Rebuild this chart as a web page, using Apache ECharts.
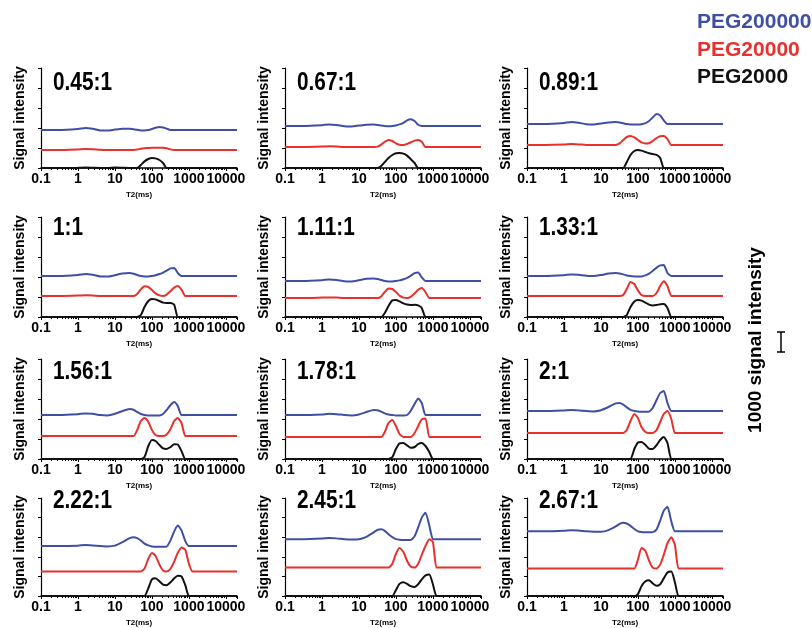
<!DOCTYPE html>
<html>
<head>
<meta charset="utf-8">
<script src="https://cdn.jsdelivr.net/npm/echarts@6/dist/echarts.min.js"></script>
<style>
  html, body { margin: 0; padding: 0; background: #fff; }
  #chart { width: 812px; height: 628px; }
</style>
</head>
<body>
<div id="chart"></div>
<script>
// T2 relaxation times (ms) shared by all curves
const t2 = [0.1, 0.3, 1, 1.6, 2.5, 4, 6.3, 10, 16, 25, 32, 40, 50, 63, 80, 100, 125, 160, 200, 250, 320, 400, 500, 630, 800, 1000, 1250, 1600, 3200, 20000]

const ratios = ['0.45:1', '0.67:1', '0.89:1', '1:1', '1.11:1', '1.33:1', '1.56:1', '1.78:1', '2:1', '2.22:1', '2.45:1', '2.67:1']

// vertical offset of each curve in its panel (signal units)
const blueShift = [1900, 2100, 2200, 2050, 1800, 2050, 2200, 2200, 2400, 2550, 2900, 3300]
const redShift = [900, 1050, 1150, 1050, 950, 1050, 1150, 1100, 1300, 1250, 1450, 1400]

// PEG200000
const blue045 = [0, 0, 50, 100, 60, -20, -30, 20, 60, 60, 40, 10, -20, -20, 0, 50, 110, 150, 130, 70, 0, 0, 0, 0, 0, 0, 0, 0, 0, 0]
const blue067 = [0, 0, 40, 80, 50, -10, -20, 20, 60, 70, 50, 20, 0, -10, 0, 30, 80, 160, 280, 340, 250, 60, 0, 0, 0, 0, 0, 0, 0, 0]
const blue089 = [0, 0, 50, 100, 60, -10, -20, 30, 80, 100, 80, 40, 0, -20, -30, -30, -10, 40, 150, 320, 500, 430, 180, 0, 0, 0, 0, 0, 0, 0]
const blue100 = [0, 0, 50, 100, 60, -20, -30, 40, 130, 150, 110, 50, 0, -20, -20, 0, 40, 100, 170, 270, 380, 400, 150, 0, 0, 0, 0, 0, 0, 0]
const blue111 = [0, 0, 40, 80, 50, -10, -20, 40, 110, 130, 100, 50, 0, -20, -20, 0, 30, 90, 160, 260, 390, 420, 180, 0, 0, 0, 0, 0, 0, 0]
const blue133 = [0, 0, 40, 80, 60, 10, 0, 50, 120, 150, 130, 80, 30, 0, -20, -30, -20, 30, 120, 250, 420, 530, 550, 150, 0, 0, 0, 0, 0, 0]
const blue156 = [0, 0, 40, 80, 60, 0, -20, 60, 200, 300, 260, 150, 50, 0, -20, -30, -30, -20, 50, 250, 500, 650, 450, 0, 0, 0, 0, 0, 0, 0]
const blue178 = [0, 0, 30, 60, 40, 0, -20, 30, 150, 250, 240, 170, 80, 20, 0, -20, -30, -30, 0, 200, 550, 830, 600, 0, 0, 0, 0, 0, 0, 0]
const blue200 = [0, 0, 30, 50, 30, 0, -20, 40, 200, 380, 400, 320, 180, 60, 0, -30, -40, -40, -30, 150, 550, 900, 1000, 400, 0, 0, 0, 0, 0, 0]
const blue222 = [0, 0, 20, 50, 30, 0, -20, 20, 200, 400, 450, 400, 280, 120, 30, -20, -40, -40, -40, -30, 300, 750, 1050, 800, 250, 0, 0, 0, 0, 0]
const blue245 = [0, 0, 30, 60, 40, 0, -20, 0, 120, 350, 480, 500, 420, 250, 100, 0, -30, -40, -40, -40, 150, 600, 1100, 1350, 700, 0, 0, 0, 0, 0]
const blue267 = [0, 0, 30, 60, 40, 0, -20, -20, 60, 250, 380, 440, 400, 280, 120, 0, -40, -50, -50, -40, 100, 550, 1050, 1250, 500, 0, 0, 0, 0, 0]

// PEG20000
const red045 = [0, 0, 30, 50, 40, 10, 0, 0, 0, 0, 0, 20, 60, 90, 100, 110, 110, 110, 110, 90, 30, 0, 0, 0, 0, 0, 0, 0, 0, 0]
const red067 = [0, 0, 20, 40, 30, 0, 0, 0, 0, 0, 20, 120, 260, 350, 300, 180, 110, 100, 150, 230, 320, 350, 260, 0, 0, 0, 0, 0, 0, 0]
const red089 = [0, 0, 20, 50, 30, 0, 0, 0, 0, 0, 80, 250, 400, 450, 380, 250, 130, 80, 90, 200, 350, 440, 450, 300, 0, 0, 0, 0, 0, 0]
const red100 = [0, 0, 20, 40, 30, 0, 0, 0, 0, 0, 0, 100, 330, 490, 450, 300, 130, 30, 0, 70, 250, 420, 500, 320, 0, 0, 0, 0, 0, 0]
const red111 = [0, 0, 20, 30, 20, 0, 0, 0, 0, 0, 0, 80, 300, 480, 450, 300, 120, 20, 0, 60, 230, 410, 500, 300, 0, 0, 0, 0, 0, 0]
const red133 = [0, 0, 0, 0, 0, 0, 0, 0, 0, 0, 0, 50, 350, 700, 600, 280, 50, 0, 0, 0, 150, 500, 740, 500, 0, 0, 0, 0, 0, 0]
const red156 = [0, 0, 0, 0, 0, 0, 0, 0, 0, 0, 0, 300, 750, 900, 700, 300, 50, 0, 0, 80, 350, 750, 900, 650, 0, 0, 0, 0, 0, 0]
const red178 = [0, 0, 0, 0, 0, 0, 0, 0, 0, 0, 0, 0, 250, 700, 850, 550, 150, 0, 0, 0, 200, 550, 880, 930, 0, 0, 0, 0, 0, 0]
const red200 = [0, 0, 0, 0, 0, 0, 0, 0, 0, 0, 0, 0, 150, 600, 950, 750, 300, 50, 0, 0, 150, 550, 950, 1100, 700, 0, 0, 0, 0, 0]
const red222 = [0, 0, 0, 0, 0, 0, 0, 0, 0, 0, 0, 0, 0, 150, 650, 950, 800, 350, 50, 0, 150, 500, 950, 1230, 1100, 400, 0, 0, 0, 0]
const red245 = [0, 0, 0, 0, 0, 0, 0, 0, 0, 0, 0, 0, 0, 0, 200, 700, 1000, 800, 350, 50, 0, 200, 650, 1100, 1450, 1300, 0, 0, 0, 0]
const red267 = [0, 0, 0, 0, 0, 0, 0, 0, 0, 0, 0, 0, 0, 0, 0, 450, 1050, 900, 400, 50, 0, 200, 700, 1300, 1600, 1200, 0, 0, 0, 0]

// PEG2000
const black045 = [0, 0, 10, 20, 10, 0, 0, 20, 10, 0, 0, 0, 150, 330, 450, 500, 480, 400, 250, 0, 0, 0, 0, 0, 0, 0, 0, 0, 0, 0]
const black067 = [0, 0, 0, 0, 0, 0, 0, 0, 0, 0, 0, 100, 300, 500, 650, 740, 750, 720, 620, 450, 250, 0, 0, 0, 0, 0, 0, 0, 0, 0]
const black089 = [0, 0, 0, 0, 0, 0, 0, 0, 0, 0, 0, 0, 300, 650, 850, 900, 870, 800, 740, 700, 660, 500, 0, 0, 0, 0, 0, 0, 0, 0]
const black100 = [0, 0, 0, 0, 0, 0, 0, 0, 0, 0, 0, 0, 100, 500, 800, 900, 880, 800, 720, 700, 700, 620, 0, 0, 0, 0, 0, 0, 0, 0]
const black111 = [0, 0, 0, 0, 0, 0, 0, 0, 0, 0, 0, 0, 200, 550, 830, 850, 780, 680, 620, 600, 610, 580, 450, 0, 0, 0, 0, 0, 0, 0]
const black133 = [0, 0, 0, 0, 0, 0, 0, 0, 0, 0, 0, 0, 100, 500, 780, 850, 820, 720, 620, 580, 600, 640, 650, 450, 0, 0, 0, 0, 0, 0]
const black156 = [0, 0, 0, 0, 0, 0, 0, 0, 0, 0, 0, 0, 0, 100, 650, 950, 900, 700, 530, 500, 600, 740, 720, 400, 0, 0, 0, 0, 0, 0]
const black178 = [0, 0, 0, 0, 0, 0, 0, 0, 0, 0, 0, 0, 0, 0, 100, 500, 780, 800, 680, 560, 600, 750, 800, 650, 350, 0, 0, 0, 0, 0]
const black200 = [0, 0, 0, 0, 0, 0, 0, 0, 0, 0, 0, 0, 0, 0, 500, 830, 850, 700, 520, 500, 700, 950, 1100, 800, 0, 0, 0, 0, 0, 0]
const black222 = [0, 0, 0, 0, 0, 0, 0, 0, 0, 0, 0, 0, 0, 0, 400, 850, 900, 750, 580, 550, 700, 900, 1030, 1000, 550, 0, 0, 0, 0, 0]
const black245 = [0, 0, 0, 0, 0, 0, 0, 0, 0, 0, 0, 0, 0, 0, 0, 300, 620, 700, 620, 500, 460, 600, 850, 1050, 1100, 600, 0, 0, 0, 0]
const black267 = [0, 0, 0, 0, 0, 0, 0, 0, 0, 0, 0, 0, 0, 0, 0, 100, 500, 750, 800, 650, 520, 600, 900, 1200, 1250, 700, 0, 0, 0, 0]

const blueCurves = [blue045, blue067, blue089, blue100, blue111, blue133, blue156, blue178, blue200, blue222, blue245, blue267]
const redCurves = [red045, red067, red089, red100, red111, red133, red156, red178, red200, red222, red245, red267]
const blackCurves = [black045, black067, black089, black100, black111, black133, black156, black178, black200, black222, black245, black267]

const BLUE = '#3f4fa3'
const RED = '#e8302c'
const BLACK = '#111111'
const FONT = "'Liberation Sans', Arial, sans-serif"

const colLeft = [41, 285, 527]
const rowTop = [68, 217, 359, 498]
const titleY = [83, 228, 372, 501]
const gridW = 196
const gridH = 100

const chart = echarts.init(document.getElementById('chart'))

const grids = []
const xAxes = []
const yAxes = []
const series = []
const graphics = []

function toPoints(values, shift) {
  return t2.map((t, i) => [t, values[i] + shift])
}

ratios.forEach((r, k) => {
  const col = k % 3
  const row = Math.floor(k / 3)
  grids.push({ left: colLeft[col], top: rowTop[row], width: gridW, height: gridH })
  xAxes.push({
    type: 'log',
    logBase: 10,
    gridIndex: k,
    min: 0.1,
    max: 20000,
    name: 'T2(ms)',
    nameLocation: 'middle',
    nameGap: 23,
    nameTextStyle: { fontSize: 8, fontWeight: 'bold', color: '#000', fontFamily: FONT },
    axisLine: { lineStyle: { color: '#000', width: 1.5 } },
    axisTick: { length: 3, lineStyle: { color: '#000' } },
    minorTick: { show: true, splitNumber: 10, length: 2, lineStyle: { color: '#000' } },
    splitLine: { show: false },
    axisLabel: {
      showMaxLabel: false,
      margin: 4,
      fontSize: 14,
      fontWeight: 'bold',
      color: '#000',
      fontFamily: FONT,
      formatter: v => String(v)
    }
  })
  yAxes.push({
    type: 'value',
    gridIndex: k,
    min: 0,
    max: 5000,
    interval: 1000,
    name: 'Signal intensity',
    nameLocation: 'middle',
    nameGap: 14,
    nameTextStyle: { fontSize: 14, fontWeight: 'bold', color: '#000', fontFamily: FONT },
    axisLine: { show: true, lineStyle: { color: '#000', width: 1.2 } },
    axisTick: { show: true, length: 3, lineStyle: { color: '#000' } },
    axisLabel: { show: false },
    splitLine: { show: false }
  })
  // panel title, drawn slightly condensed like the original lettering
  graphics.push({
    type: 'text',
    id: 'ratio' + k,
    x: colLeft[col] + 12,
    y: titleY[row],
    scaleX: 0.8,
    style: {
      text: r,
      fill: '#000',
      stroke: 'none',
      lineWidth: 0,
      fontSize: 26,
      fontWeight: 'bold',
      fontFamily: FONT,
      align: 'left',
      verticalAlign: 'middle'
    }
  })
  const common = {
    type: 'line',
    xAxisIndex: k,
    yAxisIndex: k,
    smooth: 0.2,
    showSymbol: false,
    silent: true,
    animation: false
  }
  series.push(Object.assign({}, common, {
    name: 'PEG2000', data: toPoints(blackCurves[k], 0),
    lineStyle: { color: BLACK, width: 2 }, itemStyle: { color: BLACK }
  }))
  series.push(Object.assign({}, common, {
    name: 'PEG20000', data: toPoints(redCurves[k], redShift[k]),
    lineStyle: { color: RED, width: 2 }, itemStyle: { color: RED }
  }))
  series.push(Object.assign({}, common, {
    name: 'PEG200000', data: toPoints(blueCurves[k], blueShift[k]),
    lineStyle: { color: BLUE, width: 2 }, itemStyle: { color: BLUE }
  }))
})

const legendTexts = [
  { text: 'PEG200000', color: BLUE, y: 22 },
  { text: 'PEG20000', color: RED, y: 50 },
  { text: 'PEG2000', color: BLACK, y: 77 }
]
legendTexts.forEach((l, i) => {
  graphics.push({
    type: 'text',
    id: 'leg' + i,
    x: 697,
    y: l.y,
    style: {
      text: l.text,
      fill: l.color,
      stroke: 'none',
      lineWidth: 0,
      fontSize: 21,
      fontWeight: 'bold',
      fontFamily: FONT,
      align: 'left',
      verticalAlign: 'middle'
    }
  })
})

graphics.push({
  type: 'text',
  id: 'scaleText',
  x: 756,
  y: 340,
  rotation: Math.PI / 2,
  style: {
    text: '1000 signal intensity',
    fill: '#000',
    stroke: 'none',
    lineWidth: 0,
    fontSize: 19,
    fontWeight: 'bold',
    fontFamily: FONT,
    align: 'center',
    verticalAlign: 'middle'
  }
})

chart.setOption({
  animation: false,
  grid: grids,
  xAxis: xAxes,
  yAxis: yAxes,
  series: series,
  graphic: graphics
})

// scale bar: height of 1000 signal units on the panel axes
const p0 = chart.convertToPixel({ gridIndex: 0 }, [1, 0])
const p1 = chart.convertToPixel({ gridIndex: 0 }, [1, 1000])
let barH = p0 && p1 ? Math.abs(p0[1] - p1[1]) : 20
if (!isFinite(barH) || barH <= 0) barH = 20
const barX = 781
const barTop = 332
chart.setOption({
  graphic: [
    { type: 'line', id: 'barV', shape: { x1: barX, y1: barTop, x2: barX, y2: barTop + barH }, style: { stroke: '#000', lineWidth: 1.5 } },
    { type: 'line', id: 'barT', shape: { x1: barX - 4, y1: barTop, x2: barX + 4, y2: barTop }, style: { stroke: '#000', lineWidth: 1.5 } },
    { type: 'line', id: 'barB', shape: { x1: barX - 4, y1: barTop + barH, x2: barX + 4, y2: barTop + barH }, style: { stroke: '#000', lineWidth: 1.5 } }
  ]
})

window.addEventListener('resize', () => {
  chart.resize()
})
</script>
</body>
</html>
